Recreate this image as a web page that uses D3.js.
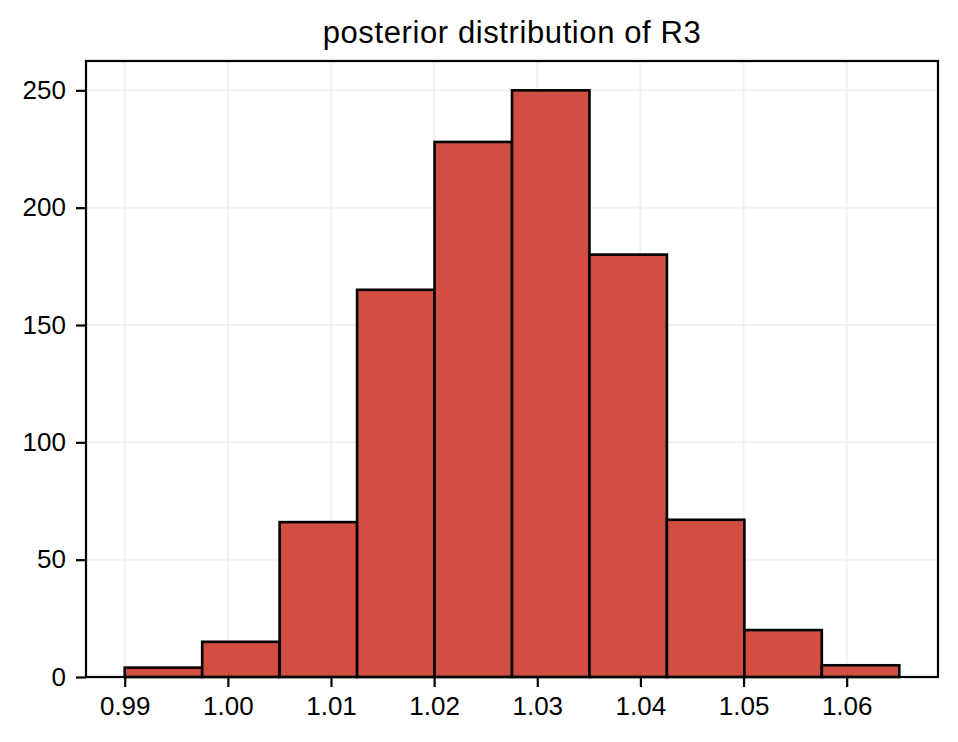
<!DOCTYPE html>
<html><head><meta charset="utf-8">
<script src="https://cdn.jsdelivr.net/npm/d3@7"></script>
<style>body{margin:0;background:#fff}svg{display:block}</style>
</head><body><svg id="c" width="958" height="742"></svg>
<script>
const binStart = 0.99;
const binEnd = 1.0651;
const counts = [4, 15, 66, 165, 228, 250, 180, 67, 20, 5];
const xTicks = [0.99, 1.00, 1.01, 1.02, 1.03, 1.04, 1.05, 1.06];
const yTicks = [0, 50, 100, 150, 200, 250];
const title = "posterior distribution of R3";

const svg = d3.select("#c");
const L = 86, R = 938, T = 61, B = 677;
const w = (binEnd - binStart) / counts.length;
const bins = counts.map((c, i) => ({x0: binStart + i * w, x1: binStart + (i + 1) * w, c}));
const pad = (binEnd - binStart) * 0.05;
const x = d3.scaleLinear().domain([binStart - pad, binEnd + pad]).range([L, R]);
const y = d3.scaleLinear().domain([0, d3.max(counts) * 1.05]).range([B, T]);
const font = "'Liberation Sans', Arial, Helvetica, sans-serif";

// grid
svg.append("g").selectAll("line").data(xTicks).join("line")
  .attr("x1", d => x(d)).attr("x2", d => x(d)).attr("y1", T).attr("y2", B)
  .attr("stroke", "#f2f2f2").attr("stroke-width", 2);
svg.append("g").selectAll("line").data(yTicks).join("line")
  .attr("y1", d => y(d)).attr("y2", d => y(d)).attr("x1", L).attr("x2", R)
  .attr("stroke", "#f2f2f2").attr("stroke-width", 2);

// bars
svg.append("g").selectAll("rect").data(bins).join("rect")
  .attr("x", d => x(d.x0)).attr("width", d => x(d.x1) - x(d.x0))
  .attr("y", d => y(d.c)).attr("height", d => y(0) - y(d.c))
  .attr("fill", "#d24e42").attr("stroke", "#000").attr("stroke-width", 2.6);

// axes
const xa = svg.append("g").attr("transform", `translate(0,${B})`)
  .call(d3.axisBottom(x).tickValues(xTicks).tickFormat(d3.format(".2f")).tickSize(10).tickPadding(10));
const ya = svg.append("g").attr("transform", `translate(${L},0)`)
  .call(d3.axisLeft(y).tickValues(yTicks).tickSize(10).tickPadding(10));
[xa, ya].forEach(a => {
  a.select(".domain").remove();
  a.selectAll(".tick line").attr("stroke", "#000").attr("stroke-width", 2.2);
  a.selectAll(".tick text").attr("font-family", font).attr("font-size", 26).attr("fill", "#000");
});

// frame
svg.append("rect").attr("x", L).attr("y", T).attr("width", R - L).attr("height", B - T)
  .attr("fill", "none").attr("stroke", "#000").attr("stroke-width", 2.2);

svg.append("text").attr("x", (L + R) / 2).attr("y", 43).attr("text-anchor", "middle")
  .attr("font-family", font).attr("font-size", 31).attr("letter-spacing", 0.6)
  .attr("fill", "#000").text(title);
</script></body></html>
